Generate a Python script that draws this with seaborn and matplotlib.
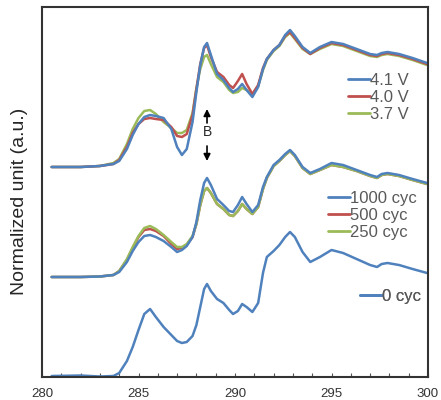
import pandas as pd
import seaborn as sns
import matplotlib.pyplot as plt
from matplotlib.lines import Line2D

# photon energy grid (eV) shared by all spectra
energy = [280.5, 282.0, 283.0, 283.7, 284.0, 284.4, 284.7, 285.0, 285.3, 285.6,
          285.9, 286.3, 286.7, 287.0, 287.25, 287.5, 287.8, 288.0, 288.2, 288.4,
          288.55, 288.75, 289.07, 289.4, 289.7, 289.9, 290.15, 290.37, 290.6, 290.9,
          291.2, 291.45, 291.65, 292.0, 292.3, 292.6, 292.85, 293.1, 293.5, 293.9,
          294.4, 295.0, 295.6, 296.3, 297.0, 297.36, 297.6, 297.9, 298.5, 299.2,
          299.95]

# top group (charged states)
v41 = [210, 210, 211, 213, 216, 228, 242, 253, 260, 262,
       261, 259, 248, 230, 222, 228, 255, 285, 312, 330,
       334, 322, 303, 297, 289, 285, 288, 293, 287, 280,
       290, 308, 318, 327, 332, 342, 347, 341, 330, 324,
       330, 335, 333, 328, 323, 322, 324, 325, 323, 319,
       314]
v40 = [210, 210, 211, 213, 217, 230, 244, 253, 258, 259,
       258, 257, 250, 241, 240, 243, 262, 288, 313, 329,
       332, 320, 305, 300, 292, 289, 296, 303, 293, 283,
       292, 309, 318, 327, 332, 341, 345, 339, 329, 323,
       329, 334, 332, 327, 322, 321, 323, 324, 322, 318,
       313]
v37 = [210, 210, 211, 214, 218, 233, 248, 259, 266, 267,
       263, 255, 249, 244, 244, 247, 264, 289, 308, 320,
       322, 313, 300, 295, 287, 284, 285, 289, 287, 282,
       291, 307, 317, 326, 331, 340, 344, 338, 328, 323,
       328, 333, 331, 326, 321, 320, 322, 323, 321, 317,
       312]

# middle group (cycled)
c1000 = [100, 100, 100.5, 102, 105, 115, 126, 135, 141, 142,
         140, 136, 130, 125, 127, 131, 140, 155, 177, 194,
         199, 192, 178, 172, 166, 165, 172, 180, 173, 165,
         172, 190, 200, 212, 217, 223, 227, 222, 210, 204,
         208, 214, 212, 207, 202, 200, 203, 204, 202, 198,
         194]
c500 = [100, 100, 100.5, 102, 106, 117, 129, 140, 147, 148,
        146, 141, 133, 128, 129, 132, 140, 153, 172, 186,
        189, 184, 173, 168, 162, 161, 166, 173, 168, 163,
        170, 188, 199, 211, 216, 222, 226, 221, 209, 203,
        207, 212, 210, 206, 201, 199, 202, 203, 201, 197,
        193]
c250 = [100, 100, 100.5, 102, 106, 118, 130, 141, 149, 151,
        148, 142, 135, 130, 130, 133, 141, 153, 172, 186,
        189, 184, 173, 168, 162, 161, 166, 173, 168, 163,
        170, 188, 199, 211, 216, 222, 226, 221, 209, 203,
        207, 212, 210, 206, 201, 199, 202, 203, 201, 197,
        193]

# bottom (pristine)
c0 = [1, 1.5, 0.5, 1, 4, 16, 30, 47, 63, 68,
      60, 50, 42, 36, 34, 35, 41, 52, 70, 88,
      93, 86, 78, 74, 67, 63, 66, 73, 70, 65,
      74, 104, 120, 126, 132, 140, 145, 140, 125, 115,
      120, 127, 124, 118, 112, 110, 113, 114, 112, 108,
      104]

series = {"4.1 V": v41, "4.0 V": v40, "3.7 V": v37,
          "1000 cyc": c1000, "500 cyc": c500, "250 cyc": c250,
          "0 cyc": c0}
order = ["0 cyc", "500 cyc", "250 cyc", "1000 cyc", "3.7 V", "4.0 V", "4.1 V"]

blue, red, green = "#4f81bd", "#c0504d", "#9bbb59"
colors = {"4.1 V": blue, "4.0 V": red, "3.7 V": green,
          "1000 cyc": blue, "500 cyc": red, "250 cyc": green, "0 cyc": blue}

df = pd.concat([pd.DataFrame({"energy": energy, "intensity": v, "curve": k})
                for k, v in series.items()], ignore_index=True)

sns.set_style("ticks")
plt.rcParams["font.family"] = ["Liberation Sans", "DejaVu Sans"]

fig = plt.figure(figsize=(4.41, 4.0), dpi=100)
ax = fig.add_axes([42 / 441, 23 / 400, 386 / 441, 370 / 400])

sns.lineplot(data=df, x="energy", y="intensity", hue="curve", hue_order=order,
             palette=colors, linewidth=1.8, legend=False, ax=ax, sort=False)
for ln in ax.lines:
    ln.set_solid_joinstyle("round")
    ln.set_solid_capstyle("round")

ax.set_xlim(280, 300)
ax.set_ylim(0, 370)
ax.set_xticks([280, 285, 290, 295, 300])
ax.set_xticks(range(280, 301), minor=True)
ax.tick_params(axis="x", which="both", direction="in", length=3, width=0.8,
               labelsize=9.5, labelcolor="#333333", color="#555555", pad=8)
ax.set_yticks([])
ax.set_xlabel("")
ax.set_ylabel("")
for side in ax.spines.values():
    side.set_linewidth(1.5)
    side.set_color("#333333")

fig.text(20 / 441, 1 - 201 / 400, "Normalized unit (a.u.)", rotation=90,
         ha="center", va="center", fontsize=14)

# arrows around the B feature
ax.annotate("", xy=(288.55, 268), xytext=(288.55, 254),
            arrowprops=dict(arrowstyle="-|>", color="black", lw=1.2,
                            mutation_scale=10, shrinkA=0, shrinkB=0))
ax.text(288.55, 245, "B", ha="center", va="center", fontsize=10)
ax.annotate("", xy=(288.55, 216), xytext=(288.55, 231),
            arrowprops=dict(arrowstyle="-|>", color="black", lw=1.2,
                            mutation_scale=10, shrinkA=0, shrinkB=0))


def add_legend(labels, x, y):
    handles = [Line2D([], [], color=colors[k], lw=2.0) for k in labels]
    leg = ax.legend(handles, labels, loc="upper left", bbox_to_anchor=(x, y),
                    frameon=False, fontsize=12, handlelength=1.3,
                    handletextpad=0.05, labelspacing=0.12, borderpad=0,
                    borderaxespad=0)
    for t in leg.get_texts():
        t.set_color("#595959")
    ax.add_artist(leg)


add_legend(["4.1 V", "4.0 V", "3.7 V"], (348 - 42) / 386, (377 - 73) / 370)
add_legend(["1000 cyc", "500 cyc", "250 cyc"], (328 - 42) / 386, (377 - 191) / 370)
add_legend(["0 cyc"], (360 - 42) / 386, (377 - 289) / 370)

fig.savefig("out.png", dpi=100)
